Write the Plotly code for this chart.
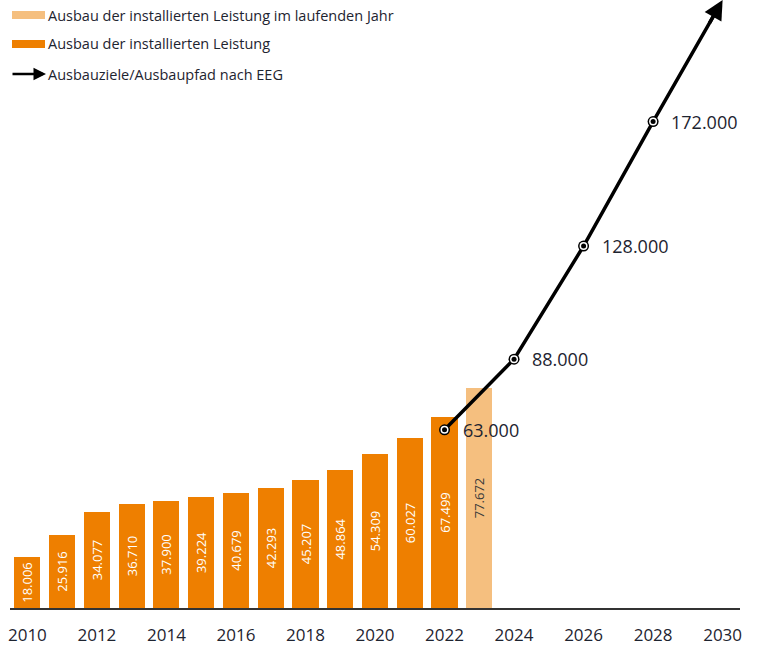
import plotly.graph_objects as go

# ---- data ----
bar_years = list(range(2010, 2023))
bar_values = [18006, 25916, 34077, 36710, 37900, 39224, 40679, 42293, 45207, 48864, 54309, 60027, 67499]
current_year = [2023]
current_value = [77672]
path_years = [2022, 2024, 2026, 2028, 2030]
path_values = [63000, 88000, 128000, 172000, 215000]
path_labels = ["63.000", "88.000", "128.000", "172.000"]
tick_years = list(range(2010, 2031, 2))
legend_labels = ["Ausbau der installierten Leistung im laufenden Jahr",
                 "Ausbau der installierten Leistung",
                 "Ausbauziele/Ausbaupfad nach EEG"]

ORANGE = "#EE7F00"
LIGHT = "#F5BF7F"
FONT = "Open Sans"

def de(v):
    return f"{v:,}".replace(",", ".")

W, H = 757, 646
ML, MR, MT, MB = 10, 17, 0, 38
PW, PH = W - ML - MR, H - MT - MB

def px(x):
    return (x - ML) / PW

def py(y):
    return (H - MB - y) / PH

fig = go.Figure()

fig.add_trace(go.Bar(
    x=bar_years, y=bar_values, width=0.75, marker=dict(color=ORANGE, line=dict(width=0)),
    text=[de(v) for v in bar_values], textposition="inside", insidetextanchor="middle",
    textangle=-90, textfont=dict(family=FONT, size=13, color="white"),
    showlegend=False, hoverinfo="skip"))

fig.add_trace(go.Bar(
    x=current_year, y=current_value, width=0.75, marker=dict(color=LIGHT, line=dict(width=0)),
    text=[de(v) for v in current_value], textposition="inside", insidetextanchor="middle",
    textangle=-90, textfont=dict(family=FONT, size=13, color="#3a3a3a"),
    showlegend=False, hoverinfo="skip"))

fig.add_trace(go.Scatter(
    x=path_years[:-1] + [path_years[-1] - 0.12],
    y=path_values[:-1] + [path_values[-1] - (path_values[-1] - path_values[-2]) * 0.06],
    mode="lines", line=dict(color="black", width=3.5), showlegend=False, hoverinfo="skip",
    cliponaxis=False))

for size, col in [(11, "black"), (8, "white"), (5, "black")]:
    fig.add_trace(go.Scatter(
        x=path_years[:-1], y=path_values[:-1], mode="markers",
        marker=dict(size=size, color=col, line=dict(width=0)),
        showlegend=False, hoverinfo="skip", cliponaxis=False))

# arrow head at 2030
fig.add_annotation(
    x=path_years[-1], y=path_values[-1], xref="x", yref="y",
    ax=path_years[-2] + (path_years[-1] - path_years[-2]) * 0.8,
    ay=path_values[-2] + (path_values[-1] - path_values[-2]) * 0.8,
    axref="x", ayref="y", showarrow=True, arrowhead=2, arrowsize=1.1,
    arrowwidth=3.5, arrowcolor="black", standoff=0, text="")

for xv, yv, lab in zip(path_years, path_values, path_labels):
    fig.add_annotation(x=xv, y=yv, xref="x", yref="y", text=lab, showarrow=False,
                       xanchor="left", yanchor="middle", xshift=16, yshift=0,
                       font=dict(family=FONT, size=18, color="#1e2430"))

# manual legend
rows = [15, 44, 74]
for i, (lab, ry) in enumerate(zip(legend_labels, rows)):
    if i < 2:
        fig.add_shape(type="rect", xref="paper", yref="paper",
                      x0=px(12), x1=px(45), y0=py(ry - 4), y1=py(ry + 4),
                      fillcolor=LIGHT if i == 0 else ORANGE, line=dict(width=0), layer="above")
    else:
        fig.add_annotation(x=px(46), y=py(ry), ax=-35, ay=0, xref="paper", yref="paper",
                           axref="pixel", ayref="pixel", showarrow=True, arrowhead=2,
                           arrowsize=1, arrowwidth=2.5, arrowcolor="black", standoff=0, text="")
    fig.add_annotation(x=px(46), y=py(ry), xref="paper", yref="paper", text=lab,
                       showarrow=False, xanchor="left", yanchor="middle",
                       font=dict(family=FONT, size=14.5, color="#1e2430"))

fig.update_layout(
    width=W, height=H, margin=dict(l=ML, r=MR, t=MT, b=MB, autoexpand=False),
    paper_bgcolor="white", plot_bgcolor="white", bargap=0, barmode="overlay",
    xaxis=dict(range=[2009.5, 2030.5], tickvals=tick_years, ticktext=[str(t) for t in tick_years],
               showline=True, linecolor="#333333", linewidth=1.5, showgrid=False, zeroline=False,
               ticks="", ticklabelstandoff=11, automargin=False,
               tickfont=dict(family=FONT, size=17, color="#1e2430")),
    yaxis=dict(range=[0, 215000], visible=False, showgrid=False, zeroline=False, automargin=False),
    showlegend=False,
)

fig.write_html("out.html")
